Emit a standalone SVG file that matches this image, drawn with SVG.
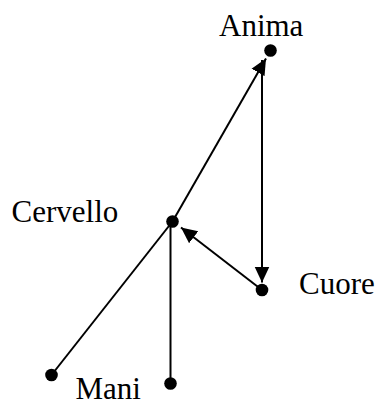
<svg xmlns="http://www.w3.org/2000/svg" width="379" height="406" viewBox="0 0 379 406">
<style>
.lbl{font-family:"Liberation Serif","Times New Roman",serif;font-size:31px;fill:#000}
.dot{fill:#000}
.ln{stroke:#000;stroke-width:2;fill:none}
</style>
<defs>
<marker id="ah" markerUnits="userSpaceOnUse" markerWidth="17" markerHeight="17" viewBox="0 0 17 17" refX="16" refY="8.5" orient="auto">
<path d="M0,1 L16,8.5 L0,16 Z" fill="#000"/>
</marker>
</defs>
<rect width="379" height="406" fill="#fff"/>
<g id="connectors">
<line class="ln" x1="172.5" y1="221.5" x2="266" y2="58.5" marker-end="url(#ah)"/>
<line class="ln" x1="262" y1="60" x2="262" y2="282.5" marker-end="url(#ah)"/>
<line class="ln" x1="262" y1="290" x2="181" y2="227.5" marker-end="url(#ah)"/>
<line class="ln" x1="172.5" y1="221.5" x2="51.5" y2="375"/>
<line class="ln" x1="170.5" y1="222" x2="170.5" y2="383"/>
</g>
<g id="anima"><circle class="dot" cx="270.5" cy="50.5" r="6.3"/><text class="lbl" x="219" y="36">Anima</text></g>
<g id="cervello"><circle class="dot" cx="172.5" cy="221.5" r="6.3"/><text class="lbl" x="11.5" y="221.5">Cervello</text></g>
<g id="cuore"><circle class="dot" cx="262" cy="290" r="6.3"/><text class="lbl" x="299" y="293.5">Cuore</text></g>
<g id="sinistra"><circle class="dot" cx="51.5" cy="375" r="6.3"/></g>
<g id="mani"><circle class="dot" cx="170.5" cy="383.5" r="6.3"/><text class="lbl" x="75.5" y="399">Mani</text></g>
</svg>
